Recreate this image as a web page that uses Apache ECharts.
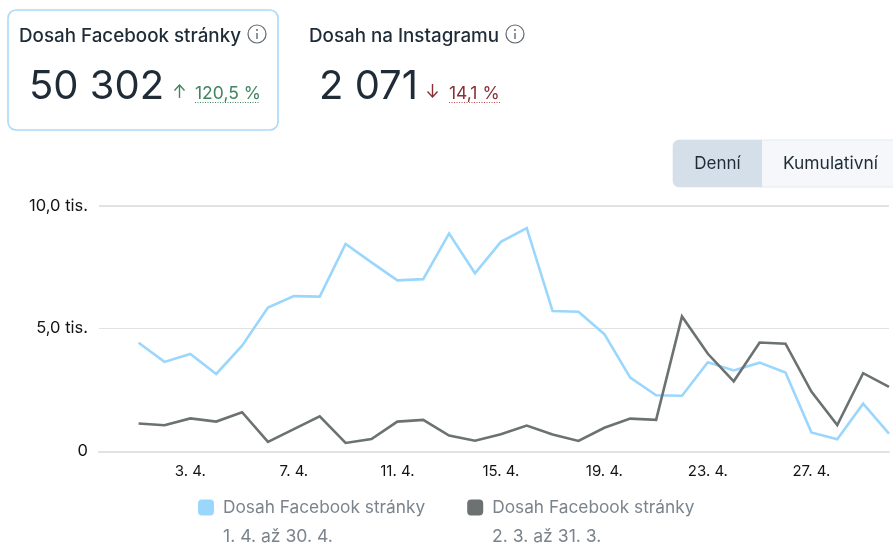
<!DOCTYPE html>
<html>
<head>
<meta charset="utf-8">
<style>
  html, body { margin: 0; padding: 0; background: #fff; }
  #chart-container { width: 893px; height: 544px; }
</style>
<script src="https://cdn.jsdelivr.net/npm/echarts@6/dist/echarts.min.js"></script>
</head>
<body>
<div id="chart-container"></div>
<script>
var days = [1, 2, 3, 4, 5, 6, 7, 8, 9, 10, 11, 12, 13, 14, 15, 16, 17, 18, 19, 20, 21, 22, 23, 24, 25, 26, 27, 28, 29, 30];
var aprilReach = [4.42, 3.64, 3.96, 3.15, 4.30, 5.85, 6.32, 6.30, 8.44, 7.69, 6.96, 7.01, 8.87, 7.25, 8.53, 9.09, 5.71, 5.68, 4.77, 3.0, 2.28, 2.26, 3.63, 3.29, 3.61, 3.21, 0.77, 0.49, 1.94, 0.72];
var marchReach = [1.13, 1.06, 1.34, 1.21, 1.59, 0.38, 0.90, 1.42, 0.34, 0.50, 1.21, 1.28, 0.64, 0.43, 0.69, 1.05, 0.68, 0.42, 0.96, 1.33, 1.28, 5.49, 3.97, 2.85, 4.43, 4.38, 2.43, 1.07, 3.18, 2.62];
var xTickDays = [3, 7, 11, 15, 19, 23, 27];
var yTickLabels = { 0: "0", 5: "5,0 tis.", 10: "10,0 tis." };
var seriesLabel = "Dosah Facebook stránky";
var periods = ["1. 4. až 30. 4.", "2. 3. až 31. 3."];

var BLUE = "#9bd7fc";
var GRAY = "#6b7271";
var FONT = "Inter";
var DARK = "#1f2c37";
var GRID = "#e2e2e2";

function pairs(values) {
  return values.map(function (v, i) {
    return [days[i], v];
  });
}

function text(x, y, str, size, color, extra) {
  return {
    type: "text",
    x: x,
    y: y,
    style: Object.assign({ text: str, fontFamily: FONT, fontSize: size, fill: color, textVerticalAlign: "middle" }, extra || {}),
  };
}

function infoIcon(cx, cy) {
  return [
    { type: "circle", shape: { cx: cx, cy: cy, r: 9 }, style: { fill: "none", stroke: "#5f6871", lineWidth: 1.2 } },
    { type: "line", shape: { x1: cx, y1: cy - 1, x2: cx, y2: cy + 5 }, style: { stroke: "#5f6871", lineWidth: 1.4 } },
    { type: "circle", shape: { cx: cx, cy: cy - 4, r: 1 }, style: { fill: "#5f6871" } },
  ];
}

function arrow(x, y1, y2, color) {
  var dir = y2 > y1 ? -1 : 1;
  return {
    type: "polyline",
    shape: { points: [[x - 5, y2 + dir * 5.5], [x, y2], [x + 5, y2 + dir * 5.5]] },
    style: { fill: "none", stroke: color, lineWidth: 1.4 },
  };
}

function stem(x, y1, y2, color) {
  return { type: "line", shape: { x1: x, y1: y1, x2: x, y2: y2 }, style: { stroke: color, lineWidth: 1.4 } };
}

function dots(x1, x2, y, color) {
  return { type: "line", shape: { x1: x1, y1: y, x2: x2, y2: y }, style: { stroke: color, lineWidth: 1, lineDash: [1, 1.5] } };
}

var graphics = [
  // selected card
  { type: "rect", shape: { x: 8, y: 10, width: 270, height: 120, r: 8 }, style: { fill: "#fff", stroke: "#a9dafa", lineWidth: 1.6 } },
  text(19, 36, "Dosah Facebook stránky", 18.8, DARK, { fontWeight: 500 }),
  text(309, 36, "Dosah na Instagramu", 18.8, DARK, { fontWeight: 500 }),
  text(29, 87, "50 302", 40, DARK),
  text(319, 87, "2 071", 40, DARK),
  text(195, 94, "120,5 %", 17.5, "#3f8560"),
  text(449, 94, "14,1 %", 17.5, "#8a2f36"),
  stem(179.5, 85, 98, "#3f8560"),
  arrow(179.5, 98, 85, "#3f8560"),
  stem(432.5, 84, 97, "#8a2f36"),
  arrow(432.5, 84, 97, "#8a2f36"),
  dots(195, 260, 102.5, "#3f8560"),
  dots(449, 501, 102.5, "#c04650"),
  // day / cumulative toggle
  { type: "rect", shape: { x: 673, y: 140, width: 240, height: 47, r: 6 }, style: { fill: "#f5f7fa", stroke: "#e6e9ee", lineWidth: 1 } },
  { type: "rect", shape: { x: 673, y: 140, width: 89, height: 47, r: [6, 0, 0, 6] }, style: { fill: "#d5dfe9" } },
  text(717.5, 164, "Denní", 17, DARK, { textAlign: "center" }),
  text(830.5, 164, "Kumulativní", 17.4, DARK, { textAlign: "center" }),
  // legend date ranges
  text(223, 537, periods[0], 17.6, "#7b848c"),
  text(492, 537, periods[1], 17.6, "#7b848c"),
];
graphics = graphics.concat(infoIcon(257, 34), infoIcon(515, 34));

var dom = document.getElementById("chart-container");
var myChart = echarts.init(dom, null, { renderer: "canvas" });

var option = {
  animation: false,
  backgroundColor: "#fff",
  textStyle: { fontFamily: FONT },
  grid: { left: 99, right: 4, top: 205.7, bottom: 92.7, containLabel: false },
  legend: {
    left: 193,
    top: 494,
    itemWidth: 16,
    itemHeight: 16,
    itemGap: 42,
    icon: "roundRect",
    selectedMode: false,
    textStyle: { fontFamily: FONT, fontSize: 17.3, color: "#7b848c", padding: [0, 0, 0, 4] },
    data: [seriesLabel + " " + periods[0], seriesLabel + " " + periods[1]],
    formatter: function () {
      return seriesLabel;
    },
  },
  xAxis: {
    type: "value",
    min: -0.53,
    max: 30,
    axisLine: { show: true, lineStyle: { color: GRID, width: 2 } },
    axisTick: { show: false },
    splitLine: { show: false },
    axisLabel: {
      customValues: xTickDays,
      margin: 13,
      fontFamily: FONT,
      fontSize: 15,
      color: "#141414",
      formatter: function (v) {
        return v + ". 4.";
      },
    },
  },
  yAxis: {
    type: "value",
    min: 0,
    max: 10,
    interval: 5,
    axisLine: { show: false },
    axisTick: { show: false },
    splitLine: { lineStyle: { color: GRID, width: 1 } },
    axisLabel: {
      margin: 11,
      padding: [7, 0, 0, 0],
      fontFamily: FONT,
      fontSize: 16.5,
      color: "#141414",
      formatter: function (v) {
        return yTickLabels[v];
      },
    },
  },
  series: [
    {
      name: seriesLabel + " " + periods[0],
      type: "line",
      showSymbol: false,
      symbol: "none",
      itemStyle: { color: BLUE },
      lineStyle: { color: BLUE, width: 2.6, join: "miter" },
      z: 2,
      data: pairs(aprilReach),
      // the top gridline reads heavier than the middle one
      markLine: {
        silent: true,
        symbol: "none",
        label: { show: false },
        lineStyle: { color: GRID, width: 2, type: "solid" },
        data: [{ yAxis: 10 }],
      },
    },
    {
      name: seriesLabel + " " + periods[1],
      type: "line",
      showSymbol: false,
      symbol: "none",
      itemStyle: { color: GRAY },
      lineStyle: { color: GRAY, width: 2.6, join: "miter" },
      z: 3,
      data: pairs(marchReach),
    },
  ],
  graphic: { elements: graphics },
};

myChart.setOption(option);
window.addEventListener("resize", myChart.resize);
</script>
</body>
</html>
